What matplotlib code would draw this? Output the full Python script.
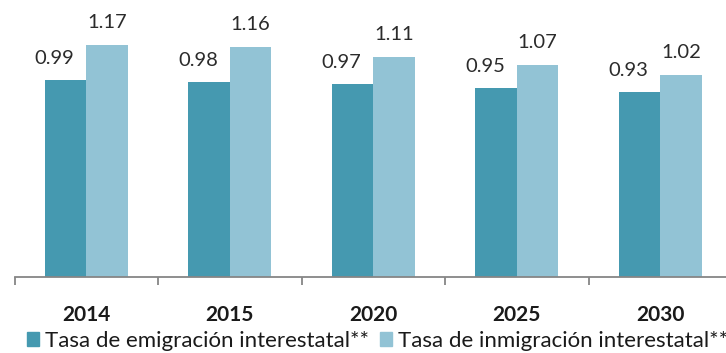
import numpy as np
import matplotlib.pyplot as plt
from matplotlib.patches import Patch

plt.rcParams['font.family'] = ['Lato', 'DejaVu Sans']

years = ["2014", "2015", "2020", "2025", "2030"]
emigracion = [0.99, 0.98, 0.97, 0.95, 0.93]
inmigracion = [1.17, 1.16, 1.11, 1.07, 1.02]
series_names = ["Tasa de emigración interestatal**", "Tasa de inmigración interestatal**"]

dark = "#4599B0"
light = "#92C3D5"
grey = "#868686"

fig = plt.figure(figsize=(7.26, 3.53), dpi=100)
# axes run a bit past the right edge, like the cropped original
ax = fig.add_axes([14.5 / 726, 76 / 353, 717.5 / 726, 268 / 353])

x = np.arange(len(years))
w = 0.29
b1 = ax.bar(x - w / 2, emigracion, w, color=dark, edgecolor="none")
b2 = ax.bar(x + w / 2, inmigracion, w, color=light, edgecolor="none")

for rect, v in zip(b1, emigracion):
    ax.annotate(f"{v:.2f}", (rect.get_x() + rect.get_width() / 2, v),
                xytext=(-8, 12), textcoords="offset points",
                ha="center", va="baseline", fontsize=14.5, color="#2b2b2b")
for rect, v in zip(b2, inmigracion):
    ax.annotate(f"{v:.2f}", (rect.get_x() + rect.get_width() / 2, v),
                xytext=(0, 12), textcoords="offset points",
                ha="center", va="baseline", fontsize=14.5, color="#2b2b2b")

ax.set_xlim(-0.5, len(years) - 0.5)
ax.set_ylim(0, 1.35)
ax.set_yticks([])
for s in ["top", "right", "left"]:
    ax.spines[s].set_visible(False)
ax.spines["bottom"].set_color(grey)
ax.spines["bottom"].set_linewidth(1.3)

ax.set_xticks(x)
ax.set_xticklabels(years, fontsize=15, fontweight="bold", color="#1a1a1a")
ax.set_xticks(np.arange(len(years) + 1) - 0.5, minor=True)
ax.tick_params(axis="x", which="major", length=0, pad=20)
ax.tick_params(axis="x", which="minor", length=6, width=1.3, color=grey, direction="out")

handles = [Patch(color=dark), Patch(color=light)]
fig.legend(handles, series_names, loc="center left", bbox_to_anchor=(27 / 726, 12 / 353),
           ncol=2, frameon=False, fontsize=16.0, handlelength=0.55, handleheight=0.55,
           handletextpad=0.25, columnspacing=0.5, borderpad=0, borderaxespad=0,
           labelcolor="#1a1a1a")

fig.savefig("out.png", dpi=100)
